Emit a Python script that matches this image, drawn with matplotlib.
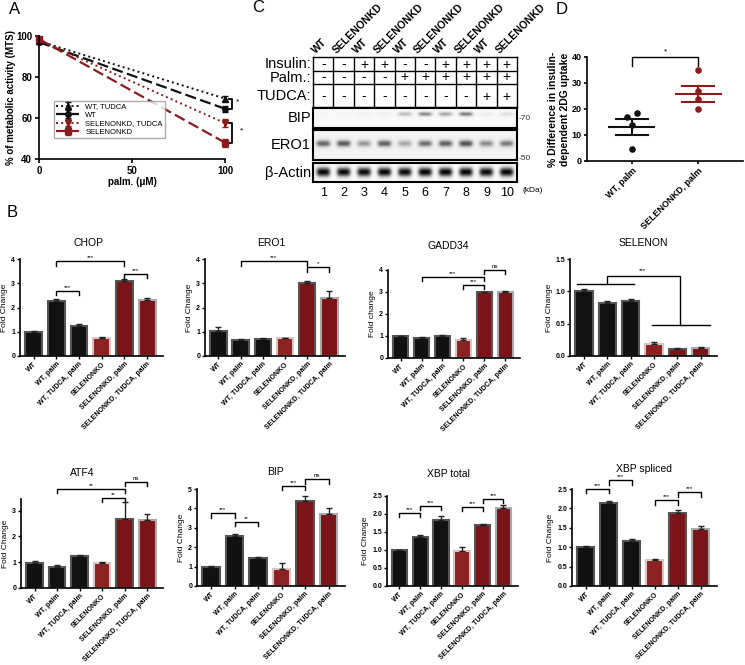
import numpy as np
import matplotlib.pyplot as plt

plt.rcParams['font.family'] = ['Liberation Sans', 'DejaVu Sans']
plt.rcParams['axes.linewidth'] = 1.2

# ---------------- datos ----------------
# Panel A: actividad metabolica (MTS)
palm_dosis = [0, 100]
mts_wt_tudca = [97.5, 69.5]
mts_wt_tudca_err = [0.8, 1.0]
mts_wt = [97.0, 64.5]
mts_wt_err = [0.8, 1.5]
mts_sel_tudca = [98.0, 57.5]
mts_sel_tudca_err = [0.8, 2.0]
mts_sel = [98.5, 48.0]
mts_sel_err = [1.2, 2.0]

# Panel C: western blot
carriles = ['WT', 'SELENONKD'] * 5
insulina = ['-', '-', '+', '+', '-', '-', '+', '+', '+', '+']
palmitato = ['-', '-', '-', '-', '+', '+', '+', '+', '+', '+']
tudca = ['-', '-', '-', '-', '-', '-', '-', '-', '+', '+']
banda_bip = [0.04, 0.04, 0.06, 0.07, 0.32, 0.5, 0.4, 0.55, 0.1, 0.16]
banda_ero1 = [0.58, 0.62, 0.4, 0.6, 0.35, 0.55, 0.6, 0.66, 0.45, 0.5]
banda_actina = [0.95, 0.93, 0.93, 0.95, 0.93, 0.95, 0.95, 0.95, 0.93, 0.95]

# Panel D: captacion de 2DG
grupos_d = ['WT, palm', 'SELENONKD, palm']
puntos_wt = [18.6, 16.8, 13.9, 4.5]
desvio_wt = [0.07, -0.07, 0.0, 0.0]
puntos_sel = [35.0, 26.8, 24.0, 20.0]
desvio_sel = [0.0, 0.0, 0.0, 0.0]
media_d = [13.2, 25.8]
sem_d = [3.1, 3.2]

# Panel B: qPCR
condiciones = ['WT', 'WT, palm', 'WT, TUDCA, palm', 'SELENONKO',
               'SELENONKD, palm', 'SELENONKD, TUDCA, palm']
chop = [1.0, 2.25, 1.25, 0.75, 3.08, 2.3]
chop_err = [0.03, 0.12, 0.05, 0.05, 0.09, 0.1]
ero1 = [1.02, 0.68, 0.7, 0.73, 3.0, 2.38]
ero1_err = [0.18, 0.03, 0.03, 0.0, 0.08, 0.3]
gadd34 = [0.98, 0.93, 0.98, 0.8, 2.98, 3.0]
gadd34_err = [0.03, 0.04, 0.08, 0.1, 0.03, 0.06]
selenon = [1.0, 0.82, 0.85, 0.18, 0.11, 0.13]
selenon_err = [0.04, 0.03, 0.03, 0.04, 0.01, 0.005]
atf4 = [0.98, 0.83, 1.25, 0.98, 2.68, 2.65]
atf4_err = [0.06, 0.07, 0.03, 0.03, 0.65, 0.22]
bip = [1.0, 2.6, 1.42, 0.9, 4.38, 3.72]
bip_err = [0.04, 0.08, 0.07, 0.28, 0.28, 0.32]
xbp_total = [1.0, 1.37, 1.83, 0.97, 1.7, 2.18]
xbp_total_err = [0.01, 0.04, 0.12, 0.1, 0.03, 0.06]
xbp_spliced = [1.0, 2.13, 1.15, 0.66, 1.88, 1.48]
xbp_spliced_err = [0.02, 0.05, 0.05, 0.04, 0.08, 0.07]

# corchetes de significancia: (barra1, barra2, altura, texto)
chop_sig = [(1, 4, 3.9, '***'), (1, 2, 2.7, '***'), (4, 5, 3.4, '***')]
ero1_sig = [(1, 4, 3.9, '***'), (4, 5, 3.65, '*')]
gadd34_sig = [(1, 4, 3.7, '***'), (3, 4, 3.3, '***'), (4, 5, 4.0, 'ns')]
atf4_sig = [(1, 4, 3.84, '**'), (3, 4, 3.5, '**'), (4, 5, 4.1, 'ns')]
bip_sig = [(0, 1, 3.75, '***'), (1, 2, 3.32, '**'), (3, 4, 5.15, '***'), (4, 5, 5.5, 'ns')]
xbp_total_sig = [(0, 1, 2.04, '***'), (1, 2, 2.22, '***'), (3, 4, 2.19, '***'), (4, 5, 2.41, '***')]
xbp_spliced_sig = [(0, 1, 2.5, '***'), (1, 2, 2.72, '***'), (3, 4, 2.21, '***'), (4, 5, 2.41, '***')]

W, H = 745, 665
fig = plt.figure(figsize=(7.45, 6.65), dpi=100)


def caja(l, t, r, b):
    return fig.add_axes([l / W, 1 - b / H, (r - l) / W, (b - t) / H])


NEGRO = '#111111'
ROJO = '#8b1c1c'

# ---------------- Panel A ----------------
fig.text(15 / W, 1 - 9 / H, 'A', fontsize=12, va='center', ha='center')
ax = caja(39, 36, 225, 159)
ax.errorbar(palm_dosis, mts_wt_tudca, yerr=mts_wt_tudca_err, color=NEGRO, ls=':', lw=1.4,
            marker='^', ms=4, capsize=2, label='WT, TUDCA', clip_on=False)
ax.errorbar(palm_dosis, mts_wt, yerr=mts_wt_err, color=NEGRO, ls=(0, (5, 2)), lw=1.6,
            marker='o', ms=4, capsize=2, label='WT', clip_on=False)
ax.errorbar(palm_dosis, mts_sel_tudca, yerr=mts_sel_tudca_err, color=ROJO, ls=':', lw=1.4,
            marker='v', ms=4, capsize=2, label='SELENONKD, TUDCA', clip_on=False)
ax.errorbar(palm_dosis, mts_sel, yerr=mts_sel_err, color=ROJO, ls=(0, (5, 2)), lw=1.6,
            marker='s', ms=4, capsize=2, label='SELENONKD', clip_on=False)
ax.set_xlim(0, 100)
ax.set_ylim(40, 100)
ax.set_xticks([0, 50, 100])
ax.set_yticks([40, 60, 80, 100])
ax.spines[['top', 'right']].set_visible(False)
ax.tick_params(labelsize=7, length=3, width=1.2, pad=2)
for t in ax.get_xticklabels() + ax.get_yticklabels():
    t.set_fontweight('bold')
ax.set_xlabel('palm. (\u03bcM)', fontsize=7, fontweight='bold', labelpad=1)
ax.set_ylabel('% of metabolic activity (MTS)', fontsize=7, fontweight='bold', labelpad=0)
ax.legend(loc='lower left', bbox_to_anchor=(0.08, 0.17), fontsize=5.5, handlelength=3,
          frameon=True, fancybox=False, edgecolor='#999999', borderpad=0.3,
          labelspacing=0.15, borderaxespad=0)
for (y1, y2, xb, xt) in [(mts_wt_tudca[1], mts_wt[1], 103.5, 106.5),
                         (mts_sel_tudca[1], mts_sel[1], 103.5, 109)]:
    ax.plot([102, xb, xb, 102], [y1, y1, y2, y2], color='black', lw=1.3, clip_on=False)
    ax.text(xt, (y1 + y2) / 2 + 1, '*', fontsize=6, ha='center', va='center')

# ---------------- Panel C ----------------
fig.text(258 / W, 1 - 8 / H, 'C', fontsize=12, va='center', ha='center')
tab = caja(313, 57, 517, 107)
tab.set_xlim(0.5, 10.5)
tab.set_ylim(107, 57)
tab.axis('off')
for xl in np.arange(0.5, 11, 1):
    tab.plot([xl, xl], [57, 107], color='black', lw=1, clip_on=False)
for yl in [57, 71, 84, 107]:
    tab.plot([0.5, 10.5], [yl, yl], color='black', lw=1, clip_on=False)
for i in range(10):
    tab.text(i + 1, 64.5, insulina[i], fontsize=10, ha='center', va='center')
    tab.text(i + 1, 77.5, palmitato[i], fontsize=10, ha='center', va='center')
    tab.text(i + 1, 96.5, tudca[i], fontsize=10, ha='center', va='center')
    tab.text(i + 0.72, 55, carriles[i], fontsize=7.5, fontweight='bold', rotation=45,
             ha='left', va='bottom', rotation_mode='anchor', clip_on=False)
for etiqueta, yy in [('Insulin:', 64.5), ('Palm.:', 77.5), ('TUDCA:', 96.5),
                     ('BIP', 118), ('ERO1', 145), ('\u03b2-Actin', 172.5)]:
    fig.text(311 / W, 1 - yy / H, etiqueta, fontsize=10.5, ha='right', va='center')


def blot(ax, intens, yc, sy, fondo):
    xx = np.linspace(0.5, 10.5, 600)
    yy = np.linspace(0, 1, 80)
    X, Y = np.meshgrid(xx, yy)
    img = np.full(X.shape, fondo)
    for i, v in enumerate(intens):
        img += v * np.exp(-((X - (i + 1)) / 0.36) ** 4) * np.exp(-((Y - yc) / sy) ** 2)
    ax.imshow(np.clip(img, 0, 1), cmap='Greys', vmin=0, vmax=1, aspect='auto',
              extent=(0.5, 10.5, 1, 0))
    ax.set_xticks([])
    ax.set_yticks([])
    for s in ax.spines.values():
        s.set_linewidth(1.5)


ax_bip = caja(313, 108, 517, 128)
blot(ax_bip, banda_bip, 0.3, 0.12, 0.05)
ax_ero = caja(313, 130, 517, 160)
blot(ax_ero, banda_ero1, 0.45, 0.12, 0.1)
ax_act = caja(313, 163, 517, 182)
blot(ax_act, banda_actina, 0.5, 0.25, 0.04)
fig.text(519 / W, 1 - 118 / H, '-70', fontsize=6, va='center', color='#333333')
fig.text(519 / W, 1 - 159 / H, '-50', fontsize=6, va='center', color='#333333')
for i in range(10):
    fig.text((313 + (i + 0.5) * 20.4) / W, 1 - 193 / H, str(i + 1), fontsize=9,
             ha='center', va='center')
fig.text(533 / W, 1 - 190 / H, '(kDa)', fontsize=6, ha='center', va='center')

# ---------------- Panel D ----------------
fig.text(562 / W, 1 - 9 / H, 'D', fontsize=12, va='center', ha='center')
ax = caja(587, 57, 743, 161)
ax.scatter(1 + np.array(desvio_wt), puntos_wt, s=14, color=NEGRO, zorder=3)
ax.scatter(2 + np.array(desvio_sel), puntos_sel, s=14, color=ROJO, zorder=3)
for xg, m, s, c in zip([1, 2], media_d, sem_d, [NEGRO, ROJO]):
    ax.plot([xg - 0.34, xg + 0.34], [m, m], color=c, lw=1.5)
    ax.plot([xg - 0.24, xg + 0.24], [m + s, m + s], color=c, lw=1.5)
    ax.plot([xg - 0.24, xg + 0.24], [m - s, m - s], color=c, lw=1.5)
    ax.plot([xg, xg], [m - s, m + s], color=c, lw=1.5)
ax.plot([1, 1, 2, 2], [36.5, 40, 40, 36.5], color='black', lw=1, clip_on=False)
ax.text(1.5, 40.5, '*', fontsize=6, ha='center', va='bottom')
ax.set_xlim(0.32, 2.68)
ax.set_ylim(0, 40)
ax.set_yticks([0, 10, 20, 30, 40])
ax.set_xticks([1, 2])
ax.set_xticklabels(grupos_d, rotation=45, ha='right', rotation_mode='anchor')
ax.spines[['top', 'right']].set_visible(False)
ax.tick_params(labelsize=6.5, length=2.5, width=1.2, pad=1.5)
for t in ax.get_xticklabels() + ax.get_yticklabels():
    t.set_fontweight('bold')
ax.set_ylabel('% Difference in insulin-\ndependent 2DG uptake', fontsize=7.5,
              fontweight='bold', labelpad=1)

# ---------------- Panel B ----------------
fig.text(12 / W, 1 - 213 / H, 'B', fontsize=12, va='center', ha='center')

colores = [NEGRO, NEGRO, NEGRO, '#8c2222', '#7a1418', '#7a1418']
bordes = ['#555555', '#555555', '#555555', '#d8c4c4', '#555555', '#aaaaaa']


def barras(pos, titulo_pos, medias, errores, titulo, ymax, yticks, ylabel, sig, fmt='%g'):
    ax = caja(*pos)
    x = np.arange(len(medias))
    ax.bar(x, medias, width=0.74, color=colores, edgecolor=bordes, linewidth=1.5)
    ax.errorbar(x, medias, yerr=[np.zeros(len(medias)), errores], fmt='none',
                ecolor='#222222', elinewidth=1, capsize=2.5, capthick=1)
    ax.set_xlim(-0.6, 5.7)
    ax.set_ylim(0, ymax)
    ax.set_yticks(yticks)
    ax.set_yticklabels([fmt % v for v in yticks])
    ax.set_xticks(x)
    ax.set_xticklabels(condiciones, rotation=45, ha='right', rotation_mode='anchor')
    ax.spines[['top', 'right']].set_visible(False)
    ax.tick_params(labelsize=5, length=2, width=1, pad=1.5)
    for t in ax.get_xticklabels() + ax.get_yticklabels():
        t.set_fontweight('bold')
    fig.text(titulo_pos[0] / W, 1 - titulo_pos[1] / H, titulo, fontsize=7.5,
             ha='center', va='center')
    ax.set_ylabel(ylabel, fontsize=6, labelpad=2)
    h = ymax * 0.045
    for b1, b2, y, txt in sig:
        ax.plot([b1, b1, b2, b2], [y - h, y, y, y - h], color='black', lw=1, clip_on=False)
        ax.text((b1 + b2) / 2, y + ymax * 0.01, txt, fontsize=4.5, ha='center', va='bottom')
    return ax


barras((20, 259, 163, 356), (88, 243), chop, chop_err, 'CHOP', 4, [0, 1, 2, 3, 4],
       'Fold Change', chop_sig)
barras((205, 259, 345, 356), (271, 243), ero1, ero1_err, 'ERO1', 4, [0, 1, 2, 3, 4],
       'Fold Change', ero1_sig)
barras((388, 270, 520, 358), (448, 246), gadd34, gadd34_err, 'GADD34', 4, [0, 1, 2, 3, 4],
       'Fold change', gadd34_sig)
ax_sel = barras((570, 259, 717, 356), (643, 243), selenon, selenon_err, 'SELENON', 1.5,
                [0, 0.5, 1.0, 1.5], 'Fold Change', [], fmt='%.1f')
ax_sel.plot([-0.3, 2.15], [1.12, 1.12], color='black', lw=1, clip_on=False)
ax_sel.plot([1, 1, 4.1, 4.1], [1.12, 1.23, 1.23, 0.48], color='black', lw=1, clip_on=False)
ax_sel.plot([2.9, 5.4], [0.48, 0.48], color='black', lw=1, clip_on=False)
ax_sel.text(2.5, 1.28, '***', fontsize=4.5, ha='center', va='bottom')

barras((21, 499, 163, 588), (82, 473), atf4, atf4_err, 'ATF4', 3.45, [0, 1, 2, 3],
       'Fold Change', atf4_sig)
barras((197, 489, 345, 586), (275, 472), bip, bip_err, 'BIP', 5, [0, 1, 2, 3, 4, 5],
       'Fold Change', bip_sig)
barras((387, 496, 518, 586), (448, 474), xbp_total, xbp_total_err, 'XBP total', 2.5,
       [0, 0.5, 1.0, 1.5, 2.0, 2.5], 'Fold Change', xbp_total_sig, fmt='%.1f')
barras((572, 489, 717, 586), (644, 469), xbp_spliced, xbp_spliced_err, 'XBP spliced', 2.5,
       [0, 0.5, 1.0, 1.5, 2.0, 2.5], 'Fold Change', xbp_spliced_sig, fmt='%.1f')

fig.savefig('out.png', dpi=100)
